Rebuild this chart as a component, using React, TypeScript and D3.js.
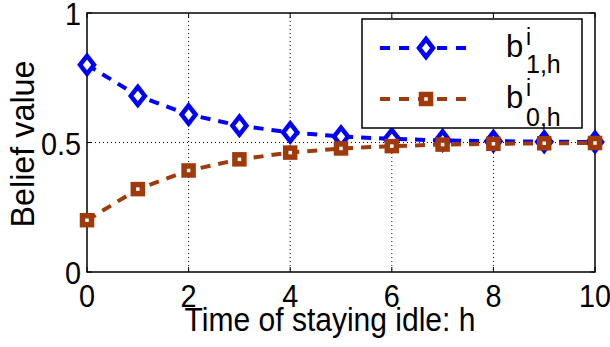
import React from "react";
import * as d3 from "d3";

const hours = [0, 1, 2, 3, 4, 5, 6, 7, 8, 9, 10];
const beliefOne = [0.8, 0.68, 0.608, 0.565, 0.539, 0.523, 0.514, 0.508, 0.505, 0.503, 0.502];
const beliefZero = [0.2, 0.32, 0.392, 0.435, 0.461, 0.477, 0.486, 0.492, 0.495, 0.497, 0.498];
const xTicks = [0, 2, 4, 6, 8, 10];
const yTicks = [0, 0.5, 1];
const yTickLabels = ["0", "0.5", "1"];

const W = 610;
const H = 347;
const L = 87, R = 595, T = 13, B = 272;
const BLUE = "#0000ff";
const BROWN = "#a03a0a";
const FONT = "'Liberation Sans', Arial, Helvetica, sans-serif";

function SText(props: {
  x: number;
  y: number;
  size: number;
  sx?: number;
  anchor?: string;
  rotate?: number;
  children: React.ReactNode;
}) {
  const { x, y, size, sx = 1, anchor = "start", rotate = 0, children } = props;
  return (
    <text
      transform={`translate(${x},${y}) rotate(${rotate}) scale(${sx},1)`}
      textAnchor={anchor}
      fontFamily={FONT}
      fontSize={size}
      fill="#000"
    >
      {children}
    </text>
  );
}

export default function App() {
  const x = d3.scaleLinear().domain([0, 10]).range([L, R]);
  const y = d3.scaleLinear().domain([0, 1]).range([B, T]);
  const line = d3
    .line<number>()
    .x((_, i) => x(hours[i]))
    .y((d) => y(d));

  const diamond = (cx: number, cy: number, key: string) => (
    <path
      key={key}
      d={`M${cx},${cy - 9} L${cx + 7},${cy} L${cx},${cy + 9} L${cx - 7},${cy} Z`}
      fill="#fff"
      stroke={BLUE}
      strokeWidth={4.5}
      strokeLinejoin="miter"
    />
  );
  const square = (cx: number, cy: number, key: string) => (
    <rect
      key={key}
      x={cx - 4.5}
      y={cy - 4.5}
      width={9}
      height={9}
      fill="#fff"
      stroke={BROWN}
      strokeWidth={5.5}
    />
  );

  const legX1 = 380, legX2 = 467, legMid = 426;
  const legY1 = 48, legY2 = 99;

  return (
    <div style={{ position: "absolute", left: 0, top: 0 }}>
      <svg width={W} height={H} style={{ display: "block", background: "#fff" }}>
        <rect x={0} y={0} width={W} height={H} fill="#fff" />
        {/* grid */}
        {xTicks.filter((t) => t > 0 && t < 10).map((t) => (
          <line key={"gx" + t} x1={x(t)} x2={x(t)} y1={T} y2={B} stroke="#000" strokeWidth={1} strokeDasharray="1,3" />
        ))}
        <line x1={L} x2={R} y1={y(0.5)} y2={y(0.5)} stroke="#000" strokeWidth={1} strokeDasharray="1,3" />
        {/* ticks */}
        {xTicks.map((t) => (
          <g key={"tx" + t}>
            <line x1={x(t)} x2={x(t)} y1={B} y2={B - 5} stroke="#000" strokeWidth={1} />
            <line x1={x(t)} x2={x(t)} y1={T} y2={T + 5} stroke="#000" strokeWidth={1} />
          </g>
        ))}
        {yTicks.map((t) => (
          <g key={"ty" + t}>
            <line x1={L} x2={L + 5} y1={y(t)} y2={y(t)} stroke="#000" strokeWidth={1} />
            <line x1={R} x2={R - 5} y1={y(t)} y2={y(t)} stroke="#000" strokeWidth={1} />
          </g>
        ))}
        {/* frame */}
        <rect x={L} y={T} width={R - L} height={B - T} fill="none" stroke="#000" strokeWidth={1.5} />
        {/* series */}
        <path d={line(beliefOne) || ""} fill="none" stroke={BLUE} strokeWidth={4} strokeDasharray="10,8" />
        {beliefOne.map((v, i) => diamond(x(hours[i]), y(v), "d" + i))}
        <path d={line(beliefZero) || ""} fill="none" stroke={BROWN} strokeWidth={4} strokeDasharray="10,8" />
        {beliefZero.map((v, i) => square(x(hours[i]), y(v), "s" + i))}
        {/* tick labels */}
        {xTicks.map((t) => (
          <SText key={"lx" + t} x={x(t)} y={307} size={32} sx={0.9} anchor="middle">
            {t}
          </SText>
        ))}
        {yTicks.map((t, i) => (
          <SText key={"ly" + t} x={L - 6} y={y(t) + 12} size={32} sx={0.9} anchor="end">
            {yTickLabels[i]}
          </SText>
        ))}
        {/* axis labels */}
        <SText x={330} y={331} size={33} sx={0.91} anchor="middle">
          Time of staying idle: h
        </SText>
        <SText x={34} y={144} size={33} sx={0.98} anchor="middle" rotate={-90}>
          Belief value
        </SText>
        {/* legend */}
        <rect x={362} y={19} width={220} height={109} fill="#fff" stroke="#000" strokeWidth={1.5} />
        <line x1={legX1} x2={legX2} y1={legY1} y2={legY1} stroke={BLUE} strokeWidth={4} strokeDasharray="10,9" />
        {diamond(legMid, legY1, "ld")}
        <line x1={legX1} x2={legX2} y1={legY2} y2={legY2} stroke={BROWN} strokeWidth={4} strokeDasharray="10,9" />
        {square(legMid, legY2, "ls")}
        <SText x={506} y={57} size={31}>b</SText>
        <SText x={526} y={45} size={23}>i</SText>
        <SText x={526} y={73} size={25}>1,h</SText>
        <SText x={506} y={108} size={31}>b</SText>
        <SText x={526} y={96} size={23}>i</SText>
        <SText x={526} y={126} size={25}>0,h</SText>
      </svg>
    </div>
  );
}
